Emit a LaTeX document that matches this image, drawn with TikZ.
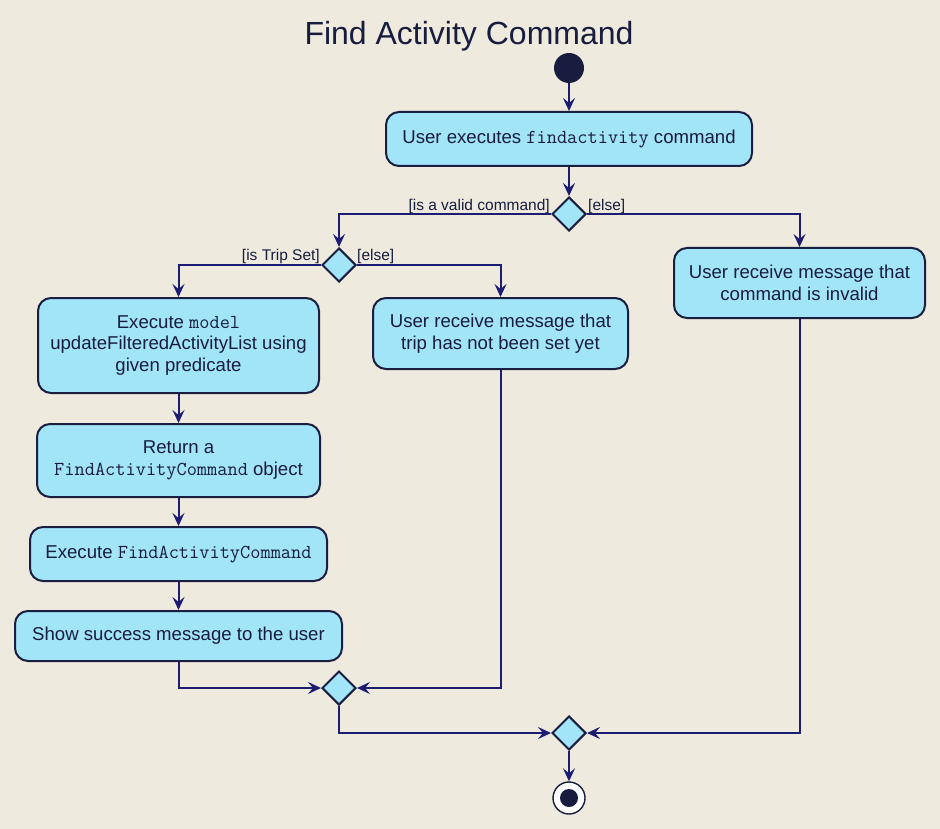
\documentclass[tikz,border=0pt]{standalone}
\usepackage{fontspec}
\setmainfont{Liberation Sans}
\usetikzlibrary{shapes.geometric,arrows.meta}
\definecolor{bgcol}{HTML}{EEEADD}
\definecolor{nodefill}{HTML}{A2E4F8}
\definecolor{nodeline}{HTML}{1A1E40}
\definecolor{arrowcol}{HTML}{1C1C72}
\definecolor{textcol}{HTML}{181C3E}
\newcommand\monotext[1]{{\fontsize{19.8}{21.5}\selectfont\ttfamily #1}}
\begin{document}
\begin{tikzpicture}[x=1pt,y=-1pt,
  actbox/.style={draw=nodeline,fill=nodefill,line width=2pt,rounded corners=13pt,
    inner sep=0pt,align=center,text=textcol,
    font=\fontsize{18.6}{21.5}\selectfont},
  decis/.style={draw=nodeline,fill=nodefill,line width=2pt,shape=diamond,
    minimum width=34pt,minimum height=34pt,inner sep=0pt},
  flow/.style={draw=arrowcol,line width=2pt,-{Stealth[length=13pt,width=12pt,inset=5pt]}},
  guard/.style={text=textcol,inner sep=0pt,font=\fontsize{15.5}{18}\selectfont}
]
\fill[bgcol] (0,0) rectangle (940,829);
\useasboundingbox (0,0) rectangle (940,829);

\node[text=textcol,anchor=base,font=\fontsize{32}{36}\selectfont] (title) at (469,45) {Find Activity Command};

\node[circle,fill=textcol,minimum size=30pt,inner sep=0pt] (start) at (569,68) {};

\node[actbox,minimum width=366pt,minimum height=54pt] (n1) at (569,139)
  {User executes \monotext{findactivity} command};
\node[decis] (d1) at (569,214) {};

\node[actbox,minimum width=251pt,minimum height=70pt] (r) at (799.5,283)
  {User receive message that\\command is invalid};
\node[decis] (d2) at (339,265) {};

\node[actbox,minimum width=281pt,minimum height=95pt] (a) at (178.5,345.5)
  {Execute \monotext{model}\\updateFilteredActivityList using\\given predicate};
\node[actbox,minimum width=255pt,minimum height=71pt] (b) at (500.5,333.5)
  {User receive message that\\trip has not been set yet};
\node[actbox,minimum width=283pt,minimum height=73pt] (c) at (178.5,460.5)
  {Return a\\\monotext{FindActivityCommand} object};
\node[actbox,minimum width=297pt,minimum height=54pt] (dd) at (178.5,554)
  {Execute \monotext{FindActivityCommand}};
\node[actbox,minimum width=327pt,minimum height=50pt] (e) at (178.5,636)
  {Show success message to the user};

\node[decis] (d3) at (339,688) {};
\node[decis] (d4) at (569,733) {};

\node[circle,draw=textcol,fill=white,line width=1.4pt,minimum size=32pt,inner sep=0pt] (stop) at (569,798) {};
\node[circle,fill=textcol,minimum size=18pt,inner sep=0pt] (stopin) at (stop.center) {};

\node[guard,anchor=base east] (g1) at (550,211) {[is a valid command]};
\node[guard,anchor=base west] (g2) at (588,211) {[else]};
\node[guard,anchor=base east] (g3) at (320,261) {[is Trip Set]};
\node[guard,anchor=base west] (g4) at (357,261) {[else]};

\draw[flow] (start) -- (n1.north);
\draw[flow] (n1.south) -- (d1.north);
\draw[flow] (d1.west) -| (d2.north);
\draw[flow] (d1.east) -| (r.north);
\draw[flow] (d2.west) -| (a.north);
\draw[flow] (d2.east) -| (b.north);
\draw[flow] (a.south) -- (c.north);
\draw[flow] (c.south) -- (dd.north);
\draw[flow] (dd.south) -- (e.north);
\draw[flow] (e.south) |- (d3.west);
\draw[flow] (b.south) |- (d3.east);
\draw[flow] (d3.south) |- (d4.west);
\draw[flow] (r.south) |- (d4.east);
\draw[flow] (d4.south) -- (stop.north);
\end{tikzpicture}
\end{document}
